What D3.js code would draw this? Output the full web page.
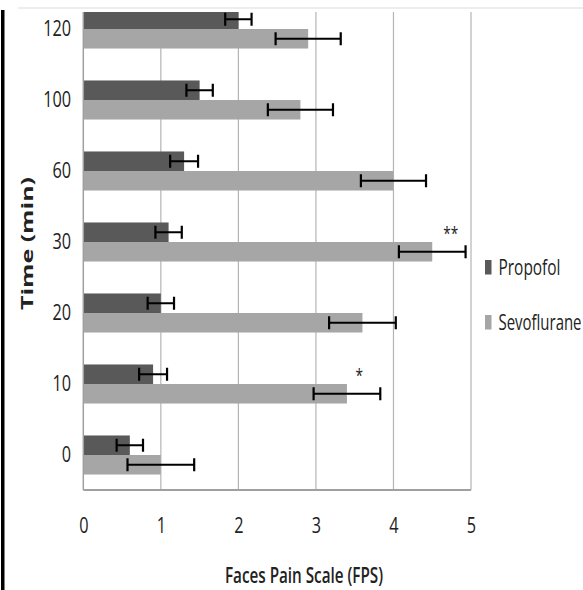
<!DOCTYPE html>
<html>
<head>
<meta charset="utf-8">
<script src="https://cdn.jsdelivr.net/npm/d3@7"></script>
<style>
  body { margin: 0; background: #fff; }
  svg { display: block; font-family: "Open Sans", sans-serif; }
</style>
</head>
<body>
<svg id="svg01" width="583" height="590"></svg>
<script>

// time points (min), bottom to top
const categories = ["0", "10", "20", "30", "60", "100", "120"]
const series = ["Propofol", "Sevoflurane"]

const propofol = [0.6, 0.9, 1.0, 1.1, 1.3, 1.5, 2.0]
const propofolErr = [0.17, 0.18, 0.17, 0.17, 0.18, 0.17, 0.17]
const sevoflurane = [1.0, 3.4, 3.6, 4.5, 4.0, 2.8, 2.9]
const sevoflurane_err = [0.43, 0.43, 0.43, 0.43, 0.42, 0.42, 0.42]

const xTicks = [0, 1, 2, 3, 4, 5]

// significance marks
const marks = [
  {cat: "30", at: 4.74, label: "**"},
  {cat: "10", at: 3.56, label: "*"}
]

const colors = {Propofol: "#595959", Sevoflurane: "#a6a6a6"}

const data = categories.map((c, i) => ({
  cat: c,
  values: [
    {key: "Propofol", v: propofol[i], e: propofolErr[i]},
    {key: "Sevoflurane", v: sevoflurane[i], e: sevoflurane_err[i]}
  ]
}))

const plot = {left: 83.3, right: 471, top: 12, bottom: 490}

const svg = d3.select("#svg01")

// frame bits around the picture
svg.append("line")
  .attr("x1", 18).attr("x2", 583).attr("y1", 8).attr("y2", 8)
  .attr("stroke", "#dcdcdc").attr("stroke-width", 1.2)
svg.append("rect")
  .attr("x", 1).attr("y", 10).attr("width", 3.5).attr("height", 580)
  .attr("fill", "#000")

const x = d3.scaleLinear()
  .domain([0, 5])
  .range([plot.left, plot.right])

const y = d3.scaleBand()
  .domain(categories)
  .range([plot.bottom + 0.5, -6.5])
  .paddingInner(0.45)
  .paddingOuter(0.225)

const ySub = d3.scaleBand()
  .domain(series)
  .range([0, y.bandwidth()])

svg.append("defs").append("clipPath").attr("id", "clip")
  .append("rect")
  .attr("x", plot.left - 2).attr("y", plot.top)
  .attr("width", plot.right - plot.left + 60).attr("height", plot.bottom - plot.top + 2)

const g = svg.append("g")

// gridlines
g.append("g")
  .selectAll("line")
  .data(xTicks.slice(1))
  .join("line")
  .attr("x1", d => x(d)).attr("x2", d => x(d))
  .attr("y1", plot.top).attr("y2", plot.bottom)
  .attr("stroke", "#b4b4b4").attr("stroke-width", 1.2)

// bars
const groups = g.append("g").attr("clip-path", "url(#clip)")
  .selectAll("g")
  .data(data)
  .join("g")
  .attr("transform", d => `translate(0,${y(d.cat)})`)

groups.selectAll("rect")
  .data(d => d.values)
  .join("rect")
  .attr("x", x(0))
  .attr("y", d => ySub(d.key))
  .attr("width", d => x(d.v) - x(0))
  .attr("height", ySub.bandwidth())
  .attr("fill", d => colors[d.key])

// error bars
const err = groups.selectAll("g.err")
  .data(d => d.values)
  .join("g")
  .attr("class", "err")
  .attr("transform", d => `translate(0,${ySub(d.key) + ySub.bandwidth() / 2})`)
  .attr("stroke", "#000")
  .attr("stroke-width", 2.2)

err.append("line")
  .attr("x1", d => x(d.v - d.e)).attr("x2", d => x(d.v + d.e))
err.append("line")
  .attr("x1", d => x(d.v - d.e)).attr("x2", d => x(d.v - d.e))
  .attr("y1", -6.5).attr("y2", 6.5)
err.append("line")
  .attr("x1", d => x(d.v + d.e)).attr("x2", d => x(d.v + d.e))
  .attr("y1", -6.5).attr("y2", 6.5)

// axis lines
g.append("line")
  .attr("x1", plot.left).attr("x2", plot.right)
  .attr("y1", plot.bottom).attr("y2", plot.bottom)
  .attr("stroke", "#a0a0a0").attr("stroke-width", 2)
g.append("line")
  .attr("x1", plot.left).attr("x2", plot.left)
  .attr("y1", plot.top).attr("y2", plot.bottom)
  .attr("stroke", "#a0a0a0").attr("stroke-width", 1.5)

// asterisks
g.append("g")
  .selectAll("text")
  .data(marks)
  .join("text")
  .attr("x", d => x(d.at))
  .attr("y", d => y(d.cat) + y.bandwidth() / 2 - 2)
  .attr("text-anchor", "middle")
  .attr("font-size", 18)
  .attr("fill", "#222")
  .attr("textLength", d => d.label.length * 7.5)
  .attr("lengthAdjust", "spacingAndGlyphs")
  .text(d => d.label)

// axes (text squeezed sideways to match the stretched picture)
const xAxis = gg => gg
  .attr("transform", `translate(0,${plot.bottom})`)
  .call(d3.axisBottom(x).tickValues(xTicks).tickFormat(d3.format("d")).tickSize(0).tickPadding(27))
  .call(gg => gg.select(".domain").remove())

const yAxis = gg => gg
  .attr("transform", `translate(${plot.left},0)`)
  .call(d3.axisLeft(y).tickSize(0).tickPadding(16.5))
  .call(gg => gg.select(".domain").remove())

const ax = g.append("g").call(xAxis)
const ay = g.append("g").call(yAxis)

;[ax, ay].forEach(a => a.selectAll("text")
  .attr("font-family", "'Open Sans', sans-serif")
  .attr("font-size", 22)
  .attr("fill", "#222")
  .attr("transform", "scale(0.74,1)"))

// axis titles
svg.append("text")
  .attr("x", 225).attr("y", 583)
  .attr("font-size", 21)
  .attr("font-weight", 600)
  .attr("fill", "#222")
  .attr("textLength", 158)
  .attr("lengthAdjust", "spacingAndGlyphs")
  .text("Faces Pain Scale (FPS)")

svg.append("text")
  .attr("transform", "translate(33,310) rotate(-90)")
  .attr("font-size", 16)
  .attr("font-weight", 700)
  .attr("fill", "#222")
  .attr("textLength", 133)
  .attr("lengthAdjust", "spacingAndGlyphs")
  .text("Time (min)")

// legend
const legend = svg.append("g")
  .selectAll("g")
  .data(series)
  .join("g")
  .attr("transform", (d, i) => `translate(485,${260 + i * 55})`)

legend.append("rect")
  .attr("width", 6.5).attr("height", 14.5)
  .attr("fill", d => colors[d])

legend.append("text")
  .attr("x", 13.5).attr("y", 14.5)
  .attr("font-size", 21)
  .attr("fill", "#222")
  .attr("textLength", d => d === "Propofol" ? 62 : 83)
  .attr("lengthAdjust", "spacingAndGlyphs")
  .text(d => d)

</script>
</body>
</html>
